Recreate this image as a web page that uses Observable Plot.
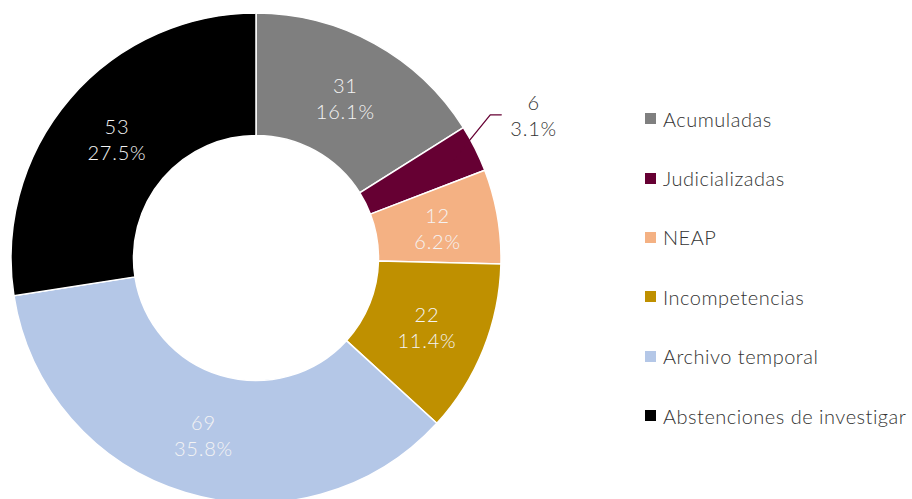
<!DOCTYPE html>
<html>
<head>
<meta charset="utf-8">
<script src="https://cdn.jsdelivr.net/npm/d3@7"></script>
<script src="https://cdn.jsdelivr.net/npm/@observablehq/plot@0.6"></script>
<style>
  html, body { margin: 0; padding: 0; background: #fff; }
  #wrap { position: relative; width: 912px; height: 499px; overflow: hidden; font-family: Lato, "Open Sans", sans-serif; }
  #chart { position: absolute; left: 0; top: 0; }
  #chart text { letter-spacing: 0.8px; }
  #legend { position: absolute; left: 645px; top: 89px; }
  .item { display: flex; align-items: center; height: 59.4px; color: #333333; font-size: 20px; font-weight: 300; letter-spacing: 0.5px; white-space: nowrap; }
  .sw { width: 11px; height: 11px; margin-right: 7px; flex: none; }
</style>
</head>
<body>
<div id="wrap"><div id="chart"></div><div id="legend"></div></div>
<script>
// ---- data ----
const categories = ["Acumuladas", "Judicializadas", "NEAP", "Incompetencias", "Archivo temporal", "Abstenciones de investigar"];
const values = [31, 6, 12, 22, 69, 53];
const percentLabels = ["16.1%", "3.1%", "6.2%", "11.4%", "35.8%", "27.5%"];
const palette = ["#7f7f7f", "#660033", "#f4b183", "#bf9000", "#b4c7e7", "#000000"];

const rows = categories.map((c, i) => ({category: c, value: values[i], pct: percentLabels[i]}));
const arcs = d3.pie().sort(null).value(d => d.value)(rows);
const total = d3.sum(values);

const INNER = 0.5;           // inner radius / outer radius
const LABEL_R = 0.75;        // label radius (mid ring)
const SMALL = 0.05;          // share below which labels go outside

const mid = a => (a.startAngle + a.endAngle) / 2;
const labels = arcs.map(a => {
  const m = mid(a);
  const outside = a.data.value / total < SMALL;
  if (!outside) return {x: LABEL_R * Math.sin(m), y: LABEL_R * Math.cos(m), text: `${a.data.value}\n${a.data.pct}`, outside};
  const e = m - 5 * Math.PI / 180;
  const ex = 1.12 * Math.sin(e), ey = 1.12 * Math.cos(e);
  return {x: ex + 0.177, y: ey, text: `${a.data.value}\n${a.data.pct}`, outside, m, ex, ey, category: a.data.category};
});
const leaders = [];
labels.filter(l => l.outside).forEach(l => {
  leaders.push({x: 0.9 * Math.sin(l.m), y: 0.9 * Math.cos(l.m), k: l.category});
  leaders.push({x: l.ex, y: l.ey, k: l.category});
  leaders.push({x: l.ex + 0.045, y: l.ey, k: l.category});
});

function donut(index, scales) {
  const sx = scales.x, sy = scales.y;
  const color = scales.color || d3.scaleOrdinal(categories, palette);
  const cx = sx(0), cy = sy(0);
  const R = sx(1) - cx;
  const arc = d3.arc().innerRadius(R * INNER).outerRadius(R);
  const g = d3.create("svg:g").attr("transform", `translate(${cx},${cy})`);
  g.selectAll("path").data(arcs).join("path")
    .attr("d", arc)
    .attr("fill", d => color(d.data.category))
    .attr("stroke", "white")
    .attr("stroke-width", 1.5);
  return g.node();
}

const chart = Plot.plot({
  width: 640,
  height: 499,
  margin: 0,
  x: {domain: [-1, 1], range: [11, 501], axis: null},
  y: {domain: [-1, 1], range: [503, 13], axis: null},
  color: {domain: categories, range: palette},
  style: {background: "transparent"},
  marks: [
    donut,
    Plot.line(leaders, {x: "x", y: "y", z: "k", stroke: "#660033", strokeWidth: 1.3}),
    Plot.text(labels, {
      x: "x", y: "y", text: "text",
      fill: d => d.outside ? "#333333" : "#f4f4f4",
      fontSize: 20, lineHeight: 1.3, fontWeight: 300,
      fontFamily: "Lato, 'Open Sans', sans-serif"
    })
  ]
});
document.getElementById("chart").appendChild(chart);

// legend
const legend = d3.select("#legend");
categories.forEach((c, i) => {
  const it = legend.append("div").attr("class", "item");
  it.append("div").attr("class", "sw").style("background", palette[i]);
  it.append("span").text(c);
});
</script>
</body>
</html>
